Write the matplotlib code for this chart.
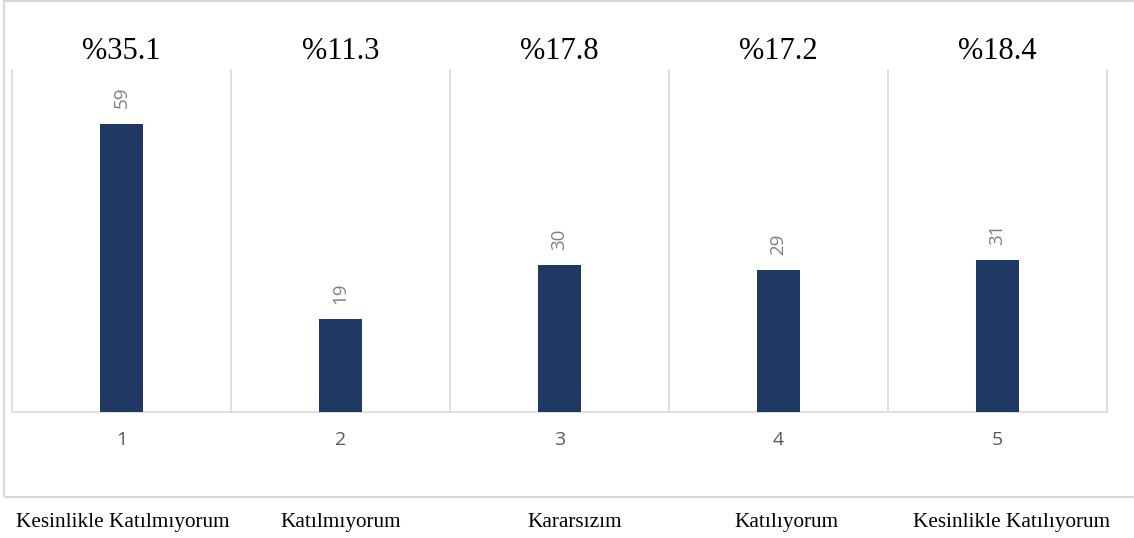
import numpy as np
import matplotlib
matplotlib.use("Agg")
import matplotlib.pyplot as plt
from matplotlib.patches import Rectangle
from matplotlib.transforms import blended_transform_factory

# data
categories = ["1", "2", "3", "4", "5"]
counts = [59, 19, 30, 29, 31]
percent_labels = ["%35.1", "%11.3", "%17.8", "%17.2", "%18.4"]
answer_labels = ["Kesinlikle Katılmıyorum", "Katılmıyorum", "Kararsızım",
                 "Katılıyorum", "Kesinlikle Katılıyorum"]
# horizontal centres of the answer texts (figure pixels / width)
answer_x = [123, 341, 575, 786, 1012]

bar_color = "#203864"
line_color = "#D9D9D9"
label_gray = "#7F7F7F"

W, H = 1134, 538
fig = plt.figure(figsize=(W / 100, H / 100), dpi=100)
ax = fig.add_axes([0.0106, 0.2348, 0.9656, 0.6352])

x = np.arange(len(categories))
bars = ax.bar(x, counts, width=0.2, color=bar_color, zorder=3)

ax.set_xlim(-0.5, len(categories) - 0.5)
ax.set_ylim(0, 70)

# vertical separators between the categories
for b in np.arange(-0.5, len(categories), 1):
    ax.axvline(b, color=line_color, lw=1.2, zorder=1, clip_on=False)

for s in ["top", "left", "right"]:
    ax.spines[s].set_visible(False)
ax.spines["bottom"].set_color(line_color)
ax.spines["bottom"].set_linewidth(1.2)

ax.set_yticks([])
ax.set_xticks(x)
ax.set_xticklabels(categories, fontsize=14, color="#595959", family="Open Sans")
ax.tick_params(axis="x", length=0, pad=14)

# rotated value labels above bars
for rect, v in zip(bars, counts):
    ax.annotate(str(v), (rect.get_x() + rect.get_width() / 2, rect.get_height()),
                xytext=(0, 11), textcoords="offset points", rotation=90,
                ha="center", va="bottom", fontsize=13.5, color=label_gray,
                family="Open Sans")

# percentages above the plot area
for xi, p in zip(x, percent_labels):
    ax.text(xi, 1.032, p, transform=ax.get_xaxis_transform(), ha="center",
            va="baseline", fontsize=22, family="Liberation Serif", color="black")

# answer texts under the frame
for xa, a in zip(answer_x, answer_labels):
    fig.text(xa / W, 11 / H, a, ha="center", va="baseline", fontsize=15.3,
             family="Liberation Serif", color="black")

# outer chart frame
fig.patches.append(Rectangle((0.0035, 0.076), 1.0, 0.922, transform=fig.transFigure,
                             fill=False, edgecolor=line_color, lw=1.5))

fig.savefig("out.png", dpi=100)
